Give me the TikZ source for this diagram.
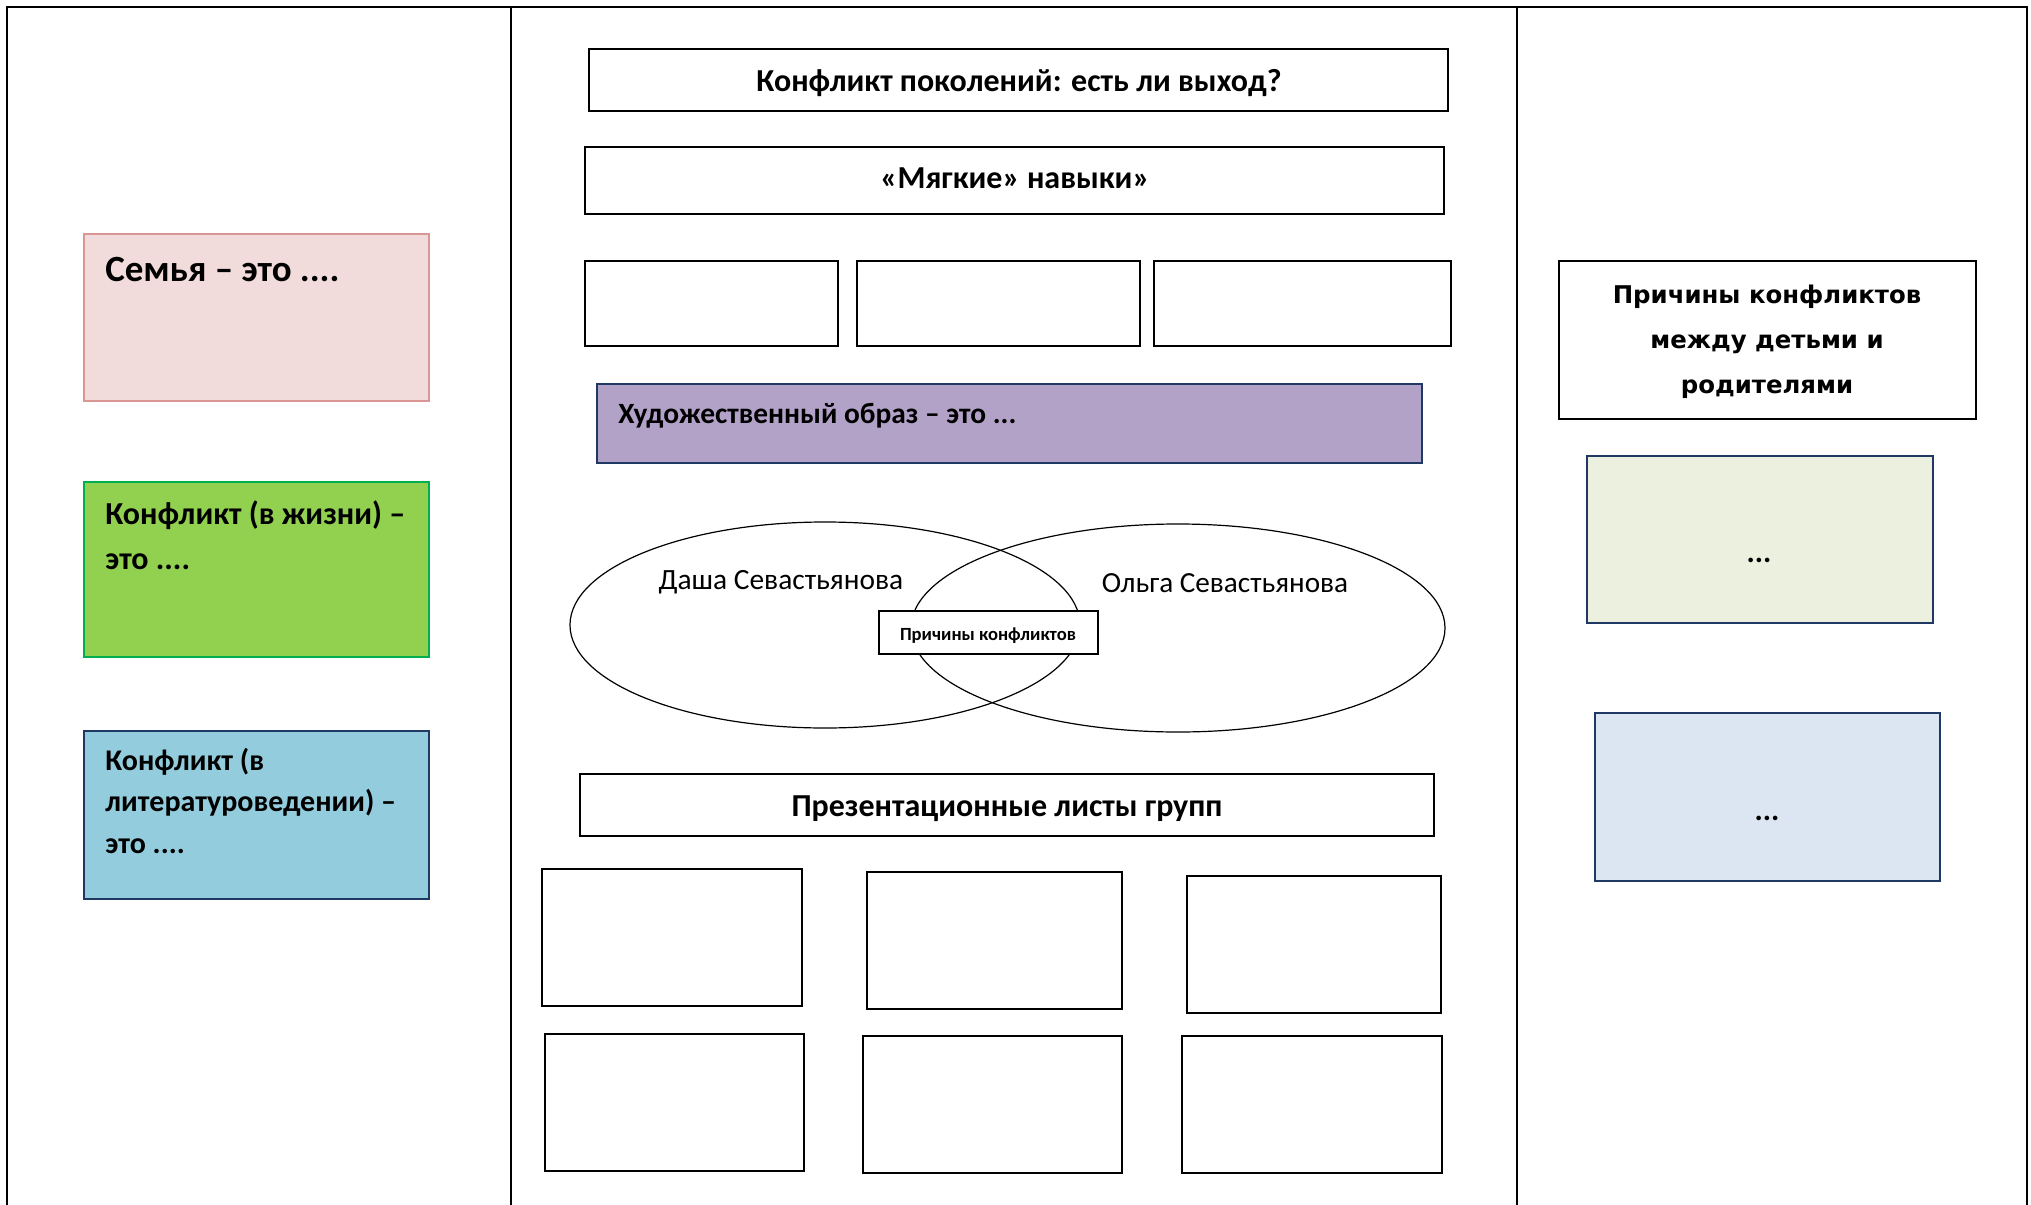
\documentclass[tikz,border=0pt]{standalone}
\usepackage{fontspec}
\setmainfont{Carlito}
\newfontfamily\dvfont{DejaVu Sans}
\usetikzlibrary{fit}
\definecolor{pinkfill}{HTML}{F2DCDB}
\definecolor{pinkdraw}{HTML}{D99694}
\definecolor{grnfill}{HTML}{92D050}
\definecolor{grndraw}{HTML}{00B050}
\definecolor{bluefill}{HTML}{93CDDD}
\definecolor{navy}{HTML}{1F3864}
\definecolor{purfill}{HTML}{B3A2C7}
\definecolor{lgrfill}{HTML}{EBF1DE}
\definecolor{lblfill}{HTML}{DCE6F2}
\tikzset{
  frameline/.style={line width=0.9pt, black},
  plainbox/.style={draw=black, line width=0.75pt, fill=white, inner sep=0pt},
  colbox/.style={line width=1.2pt, inner sep=0pt},
  venn/.style={draw=black, line width=0.6pt},
  lbl/.style={inner sep=0pt, font=\bfseries},
}
\begin{document}
\begin{tikzpicture}[x=0.5pt, y=-0.5pt]
\useasboundingbox[fill=white] (0,0) rectangle (2031,1205);
% frame
\coordinate (tl) at (7,7);
\coordinate (tr) at (2027,7);
\coordinate (bl) at (7,1205);
\coordinate (br) at (2027,1205);
\coordinate (d1t) at (511,7);
\coordinate (d1b) at (511,1205);
\coordinate (d2t) at (1517,7);
\coordinate (d2b) at (1517,1205);
\draw[frameline] (bl) -- (tl) -- (tr) -- (br);
\draw[frameline] (d1t) -- (d1b);
\draw[frameline] (d2t) -- (d2b);

% left column
\node[colbox, draw=pinkdraw, fill=pinkfill, fit={(84,234) (429,401)}] (semya) {};
\node[lbl, anchor=base west, font=\bfseries\fontsize{18.5pt}{22pt}\selectfont] (semyat) at (105,281) {Семья – это ....};
\node[colbox, draw=grndraw, fill=grnfill, fit={(84,482) (429,657)}] (zhizn) {};
\node[lbl, anchor=base west, align=left, font=\bfseries\fontsize{16pt}{22.5pt}\selectfont] (zhiznt) at (105,569) {Конфликт (в жизни) –\\это ....};
\node[colbox, draw=navy, fill=bluefill, fit={(84,731) (429,899)}] (lit) {};
\node[lbl, anchor=base west, align=left, font=\bfseries\fontsize{15pt}{20.75pt}\selectfont] (litt) at (105,853) {Конфликт (в\\литературоведении) –\\это ....};

% centre column
\node[plainbox, fit={(589,49) (1448,111)}] (title) {};
\node[lbl, anchor=base, font=\bfseries\fontsize{16pt}{18pt}\selectfont] (titlet) at (1019,91) {Конфликт поколений: есть ли выход?};
\node[plainbox, fit={(585,147) (1444,214)}] (soft) {};
\node[lbl, anchor=base, font=\bfseries\fontsize{16pt}{18pt}\selectfont] (softt) at (1015,188) {«Мягкие» навыки»};
\node[plainbox, fit={(585,261) (838,346)}] (s1) {};
\node[plainbox, fit={(857,261) (1140,346)}] (s2) {};
\node[plainbox, fit={(1154,261) (1451,346)}] (s3) {};
\node[colbox, draw=navy, fill=purfill, fit={(597,384) (1422,463)}] (obraz) {};
\node[lbl, anchor=base west, font=\bfseries\fontsize{14.7pt}{17pt}\selectfont] (obrazt) at (618,423) {Художественный образ – это ...};

\draw[venn] (825,625) ellipse [x radius=255, y radius=103];
\draw[venn] (1178,628) ellipse [x radius=267, y radius=104];
\node[inner sep=0pt, anchor=base, font=\fontsize{14.7pt}{17pt}\selectfont] (dasha) at (781,589) {Даша Севастьянова};
\node[inner sep=0pt, anchor=base, font=\fontsize{14.6pt}{17pt}\selectfont] (olga) at (1225,592) {Ольга Севастьянова};
\node[plainbox, fit={(879,611) (1098,654)}] (prich) {};
\node[lbl, anchor=base, font=\bfseries\fontsize{9.3pt}{11pt}\selectfont] (pricht) at (988,640) {Причины конфликтов};

\node[plainbox, fit={(580,774) (1434,836)}] (pres) {};
\node[lbl, anchor=base, font=\bfseries\fontsize{16pt}{18pt}\selectfont] (prest) at (1007,816) {Презентационные листы групп};
\node[plainbox, fit={(542,869) (802,1006)}] (g1) {};
\node[plainbox, fit={(867,872) (1122,1009)}] (g2) {};
\node[plainbox, fit={(1187,876) (1441,1013)}] (g3) {};
\node[plainbox, fit={(545,1034) (804,1171)}] (g4) {};
\node[plainbox, fit={(863,1036) (1122,1173)}] (g5) {};
\node[plainbox, fit={(1182,1036) (1442,1173)}] (g6) {};

% right column
\node[plainbox, fit={(1559,261) (1976,419)}] (causes) {};
\node[lbl, anchor=base, align=center, font=\dvfont\bfseries\fontsize{12.2pt}{22.5pt}\selectfont] (causest) at (1767,393) {Причины конфликтов\\между детьми и\\родителями};
\node[colbox, draw=navy, fill=lgrfill, fit={(1587,456) (1933,623)}] (c1) {};
\node[lbl, anchor=base, font=\bfseries\fontsize{15.5pt}{18pt}\selectfont] (c1t) at (1759,562) {...};
\node[colbox, draw=navy, fill=lblfill, fit={(1595,713) (1940,881)}] (c2) {};
\node[lbl, anchor=base, font=\bfseries\fontsize{15.5pt}{18pt}\selectfont] (c2t) at (1767,820) {...};
\end{tikzpicture}
\end{document}
